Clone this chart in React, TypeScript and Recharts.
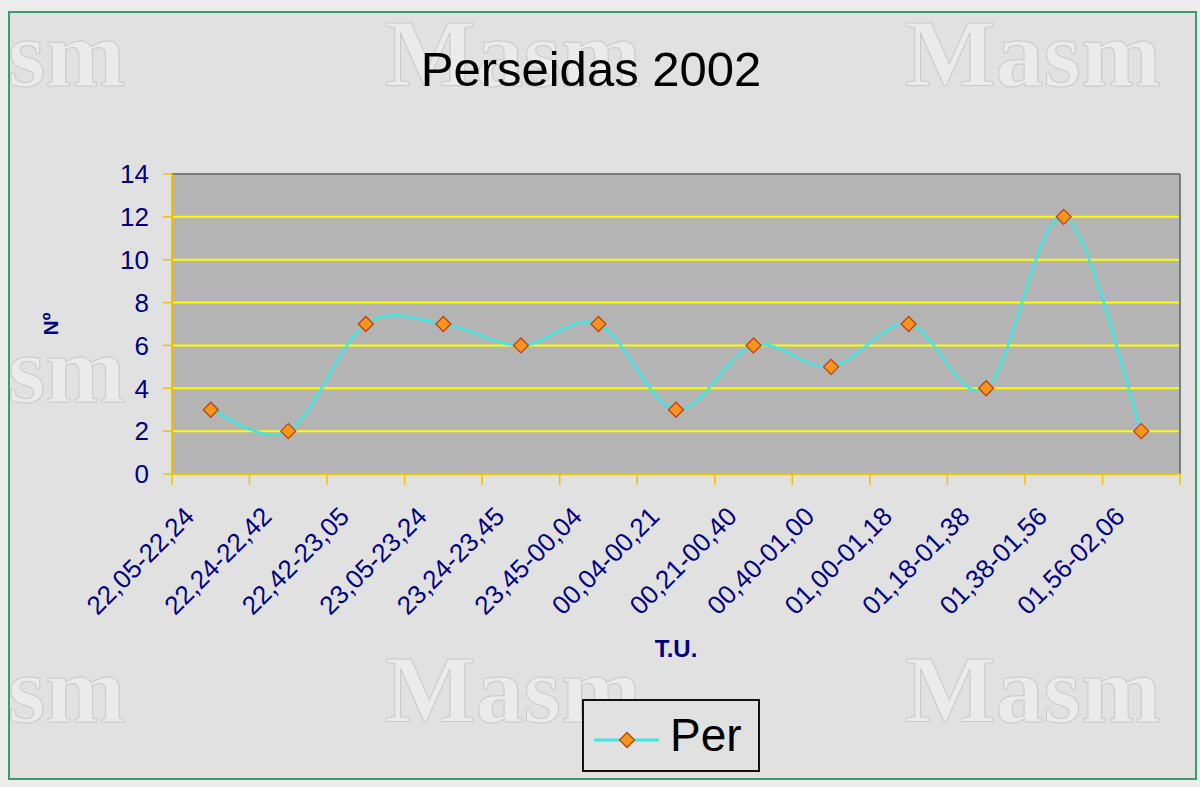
import React from 'react';
import { LineChart, Line, XAxis, YAxis, CartesianGrid, ReferenceLine, Legend } from 'recharts';

const categories = [
  '22,05-22,24', '22,24-22,42', '22,42-23,05', '23,05-23,24', '23,24-23,45',
  '23,45-00,04', '00,04-00,21', '00,21-00,40', '00,40-01,00', '01,00-01,18',
  '01,18-01,38', '01,38-01,56', '01,56-02,06',
];
const perValues = [3, 2, 7, 7, 6, 7, 3, 6, 5, 7, 4, 12, 2];
const yTicks = [0, 2, 4, 6, 8, 10, 12, 14];
const seriesName = 'Per';
const title = 'Perseidas 2002';
const yLabel = 'Nº';
const xLabel = 'T.U.';
const watermark = 'Masm';

const data = categories.map((c, i) => ({ pos: i + 0.5, cat: c, per: perValues[i] }));
const xTicks: number[] = [];
for (let i = 0; i <= categories.length; i++) {
  xTicks.push(i);
  if (i < categories.length) xTicks.push(i + 0.5);
}

const FONT = '"Liberation Sans", Arial, sans-serif';
const NAVY = '#000080';
const AXIS_YELLOW = '#f2c200';
const LINE_CYAN = '#3fe6e2';

// Excel-like smoothed curve (Catmull-Rom style Bezier)
function excelCurve(context: any) {
  let pts: number[][] = [];
  return {
    areaStart() {},
    areaEnd() {},
    lineStart() { pts = []; },
    lineEnd() {
      const n = pts.length;
      if (!n) return;
      context.moveTo(pts[0][0], pts[0][1]);
      for (let i = 0; i < n - 1; i++) {
        const p0 = pts[i - 1] || pts[i];
        const p1 = pts[i];
        const p2 = pts[i + 1];
        const p3 = pts[i + 2] || pts[i + 1];
        const c1x = p1[0] + (p2[0] - p0[0]) / 6;
        const c1y = p1[1] + (p2[1] - p0[1]) / 6;
        const c2x = p2[0] - (p3[0] - p1[0]) / 6;
        const c2y = p2[1] - (p3[1] - p1[1]) / 6;
        context.bezierCurveTo(c1x, c1y, c2x, c2y, p2[0], p2[1]);
      }
    },
    point(x: number, y: number) { pts.push([+x, +y]); },
  };
}

const Diamond = (props: any) => {
  const { cx, cy } = props;
  if (cx == null || cy == null) return null;
  const r = 7.5;
  return (
    <polygon
      points={`${cx},${cy - r} ${cx + r},${cy} ${cx},${cy + r} ${cx - r},${cy}`}
      fill="#f7941d"
      stroke="#c2410c"
      strokeWidth={1.3}
    />
  );
};

const XTick = (props: any) => {
  const { x, y, payload } = props;
  const v = payload.value;
  if (Number.isInteger(v)) {
    return <line x1={x} y1={y} x2={x} y2={y + 11} stroke={AXIS_YELLOW} strokeWidth={1.5} />;
  }
  const label = categories[Math.floor(v)];
  const tx = x - 15;
  const ty = y + 44;
  return (
    <text
      x={tx}
      y={ty}
      transform={`rotate(-45 ${tx} ${ty})`}
      textAnchor="end"
      fill={NAVY}
      fontSize={26}
      fontFamily={FONT}
    >
      {label}
    </text>
  );
};

const LegendContent = () => (
  <div style={{ position: 'relative', width: 178, height: 73, boxSizing: 'border-box', border: '2px solid #111', background: '#e1e1e1' }}>
    <svg width={70} height={30} style={{ position: 'absolute', left: 8, top: 24 }}>
      <line x1={2} y1={15} x2={67} y2={15} stroke={LINE_CYAN} strokeWidth={3} />
      <polygon points="35,7.5 42.5,15 35,22.5 27.5,15" fill="#f7941d" stroke="#c2410c" strokeWidth={1.3} />
    </svg>
    <span style={{ position: 'absolute', left: 86, top: 8, fontFamily: FONT, fontSize: 46, lineHeight: '52px', color: '#000' }}>
      {seriesName}
    </span>
  </div>
);

// watermark grid: left column shows only the visible tail of the word
const wmCols = [{ x: 8, text: watermark.slice(2) }, { x: 385, text: watermark }, { x: 905, text: watermark }];
const wmRows = [86, 402, 722];

export default function App() {
  return (
    <div style={{ position: 'absolute', left: 0, top: 0, width: 1200, height: 787, background: '#ececec', overflow: 'hidden' }}>
      <div style={{ position: 'absolute', left: 8, top: 11, width: 1189, height: 769, boxSizing: 'border-box', border: '2px solid #3d9a73', background: '#e1e1e1' }} />
      <svg width={1200} height={787} style={{ position: 'absolute', left: 0, top: 0 }}>
        {wmRows.map((ry) =>
          wmCols.map((c) => (
            <text
              key={`${c.x}-${ry}`}
              x={c.x}
              y={ry}
              fontFamily='"Liberation Serif", "Times New Roman", serif'
              fontWeight="bold"
              fontSize={96}
              fill="#ebebeb"
              stroke="#c9c9c9"
              strokeWidth={1}
            >
              {c.text}
            </text>
          ))
        )}
        <text x={591} y={86} textAnchor="middle" fontFamily={FONT} fontSize={49} fill="#000">
          {title}
        </text>
      </svg>
      <div style={{ position: 'absolute', left: 0, top: 0 }}>
        <LineChart
          width={1200}
          height={787}
          data={data}
          margin={{ top: 174, right: 20, bottom: 113, left: 42 }}
          style={{ fontFamily: FONT }}
        >
          <CartesianGrid vertical={false} stroke="#ffff00" strokeWidth={2} fill="#b4b4b4" fillOpacity={1} />
          <XAxis
            dataKey="pos"
            type="number"
            domain={[0, categories.length]}
            ticks={xTicks}
            interval={0}
            tick={<XTick />}
            tickLine={false}
            tickSize={0}
            tickMargin={0}
            axisLine={{ stroke: AXIS_YELLOW, strokeWidth: 2 }}
            height={200}
            allowDataOverflow
            label={{
              content: (p: any) => {
                const vb = p.viewBox || { x: 172, y: 474, width: 1008, height: 200 };
                return (
                  <text x={vb.x + vb.width / 2} y={vb.y + 183} textAnchor="middle" fill={NAVY} fontSize={24} fontWeight="bold" fontFamily={FONT}>
                    {xLabel}
                  </text>
                );
              },
            }}
          />
          <YAxis
            type="number"
            domain={[0, 14]}
            ticks={yTicks}
            interval={0}
            width={130}
            tick={{ fill: NAVY, fontSize: 26, fontFamily: FONT }}
            tickSize={9}
            tickMargin={14}
            tickLine={{ stroke: AXIS_YELLOW, strokeWidth: 1.5 }}
            axisLine={{ stroke: AXIS_YELLOW, strokeWidth: 2 }}
            label={{
              content: (p: any) => {
                const vb = p.viewBox || { x: 42, y: 174, width: 130, height: 300 };
                const lx = vb.x + 16;
                const ly = vb.y + vb.height / 2;
                return (
                  <text x={lx} y={ly} transform={`rotate(-90 ${lx} ${ly})`} textAnchor="middle" fill={NAVY} fontSize={21} fontWeight="bold" fontFamily={FONT}>
                    {yLabel}
                  </text>
                );
              },
            }}
          />
          <ReferenceLine y={14} stroke="#7a7a7a" strokeWidth={2} />
          <ReferenceLine x={categories.length} stroke="#7a7a7a" strokeWidth={2} />
          <Line
            dataKey="per"
            name={seriesName}
            type={excelCurve as any}
            stroke={LINE_CYAN}
            strokeWidth={2.5}
            dot={<Diamond />}
            activeDot={false}
            isAnimationActive={false}
          />
          <Legend
            layout="vertical"
            align="center"
            verticalAlign="middle"
            content={<LegendContent />}
            wrapperStyle={{ left: 582, top: 699, width: 178, height: 73 }}
          />
        </LineChart>
      </div>
    </div>
  );
}
